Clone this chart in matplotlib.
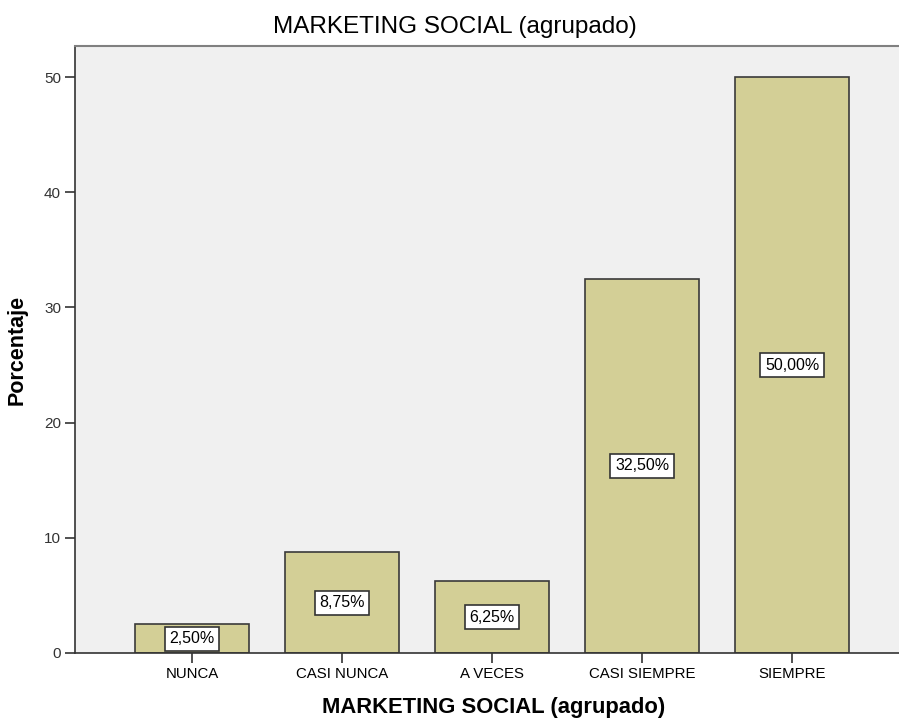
import matplotlib.pyplot as plt

plt.rcParams['font.family'] = ['Liberation Sans', 'DejaVu Sans']

categorias = ['NUNCA', 'CASI NUNCA', 'A VECES', 'CASI SIEMPRE', 'SIEMPRE']
porcentajes = [2.50, 8.75, 6.25, 32.50, 50.00]
etiquetas = ['2,50%', '8,75%', '6,25%', '32,50%', '50,00%']
yticks = [0, 10, 20, 30, 40, 50]

fig = plt.figure(figsize=(8.99, 7.19), dpi=100)
ax = fig.add_axes([75 / 899, 1 - 653 / 719, 1 - 75 / 899, (653 - 46) / 719])
ax.set_facecolor('#f0f0f0')

x = range(len(categorias))
ax.bar(x, porcentajes, width=0.755, color='#d3cf96', edgecolor='#3a3a3a', linewidth=1.2, zorder=2)

for i, (v, t) in enumerate(zip(porcentajes, etiquetas)):
    ax.text(i, v / 2, t, ha='center', va='center', fontsize=11.5, zorder=3,
            bbox=dict(boxstyle='square,pad=0.28', facecolor='white', edgecolor='#333333', linewidth=1.2))

ax.set_xlim(-0.78, 4.713)
ax.set_ylim(0, 52.7)
ax.set_xticks(list(x))
ax.set_xticklabels(categorias, fontsize=10.8)
ax.set_yticks(yticks)
ax.set_yticklabels([str(v) for v in yticks], fontsize=11, color='#333333')
ax.tick_params(axis='both', length=7, width=1.2, color='#333333', pad=3)

for s in ['left', 'bottom']:
    ax.spines[s].set_color('#333333')
    ax.spines[s].set_linewidth(1.2)
ax.spines['top'].set_color('#808080')
ax.spines['top'].set_linewidth(1.5)
ax.spines['right'].set_visible(False)

# titulo centrado en la figura, no en el eje
fig.text(455 / 899, 1 - 27 / 719, 'MARKETING SOCIAL (agrupado)', fontsize=17.5,
         ha='center', va='center')
fig.text(494 / 899, 1 - 707 / 719, 'MARKETING SOCIAL (agrupado)', fontsize=15.8,
         fontweight='bold', ha='center', va='center')
ax.set_ylabel('Porcentaje', fontsize=15.5, fontweight='bold', labelpad=12)

fig.savefig('out.png', dpi=100)
